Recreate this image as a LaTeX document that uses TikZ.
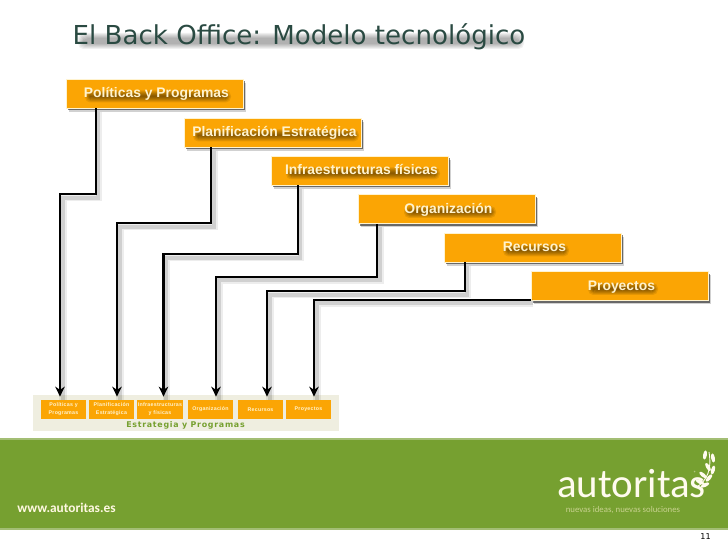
\documentclass[tikz,border=0pt]{standalone}
\usepackage{fontspec}
\usepackage{xcolor}
\usetikzlibrary{arrows.meta,calc,shadows}
\setmainfont{Liberation Sans}
\newfontfamily\titlefont{DejaVu Sans}
\newfontfamily\logofont{Carlito}
\newfontfamily\tinyfont[LetterSpace=5]{Liberation Sans}
\newfontfamily\panelfont[LetterSpace=9]{DejaVu Sans}
\definecolor{naranja}{HTML}{FBA504}
\definecolor{crema}{HTML}{FFF3CF}
\definecolor{verde}{HTML}{76A030}
\definecolor{verdeclaro}{HTML}{A3BE74}
\definecolor{pizarra}{HTML}{2A4A42}
\definecolor{panel}{HTML}{EFEEE0}
\newcommand{\softbar}[4]{% centre, half width, half height, opacity of a layer
    \foreach \k in {0,1,...,5}
        \fill[black, opacity=#4, rounded corners=3pt]
            ($#1+({-(#2)-\k},{-(#3)-\k})$) rectangle ($#1+({(#2)+\k},{(#3)+\k})$);}
\begin{document}
\begin{tikzpicture}[
    x=0.02cm, y=-0.02cm,
    >={Stealth[length=2mm, width=1.9mm]},
    box/.style={rectangle, draw=crema, line width=0.5pt, fill=naranja,
        minimum width=3.54cm, minimum height=0.58cm, inner sep=0pt,
        font=\bfseries\fontsize{7.9}{9}\selectfont, text=crema,
        text height=6.9pt, text depth=2pt,
        execute at begin node=\hspace*{2.2pt},
        drop shadow={shadow xshift=1.8pt, shadow yshift=-2.2pt, fill=black, opacity=.18},
        drop shadow={shadow xshift=1.1pt, shadow yshift=-1.4pt, fill=black, opacity=.5},
        path picture={\softbar{(path picture bounding box.center)+(3.5,3)}{#1}{1}{.09}}},
    smallbox/.style={rectangle, fill=naranja, minimum height=0.38cm, inner sep=0pt,
        align=center, text=crema, font=\tinyfont\bfseries\fontsize{3}{4.6}\selectfont},
    link/.style={->, line width=1.15pt,
        preaction={draw=black, opacity=.07, line width=4.2pt, -,
            transform canvas={shift={(1.6pt,-1.8pt)}}},
        preaction={draw=black, opacity=.12, line width=2.2pt, -,
            transform canvas={shift={(1.6pt,-1.8pt)}}}},
    lbl/.style={inner sep=0pt}
]
    \useasboundingbox (0,0) rectangle (728,546);

    % title
    \softbar{(301,41)}{218}{3}{.06}
    \node[lbl, text=pizarra, font=\titlefont\fontsize{14.85}{17}\selectfont] (titulo) at (299,37)
        {El Back Office: Modelo tecnológico};

    % upper boxes
    \node[box=68] (pol) at (154.5,93.5) {Políticas y Programas};
    \node[box=78] (pla) at (272.5,132.5) {Planificación Estratégica};
    \node[box=72] (inf) at (359.5,170.5) {Infraestructuras físicas};
    \node[box=41] (org) at (446.5,209) {Organización};
    \node[box=28] (rec) at (532.5,247.5) {Recursos};
    \node[box=30] (pro) at (619.5,286) {Proyectos};

    % lower panel
    \node[rectangle, fill=panel, minimum width=6.12cm, minimum height=0.72cm, inner sep=0pt] (fondo) at (186,413) {};
    \node[smallbox, minimum width=0.9cm] (s1) at (63.5,409.5) {Políticas y\\Programas};
    \node[smallbox, minimum width=0.9cm] (s2) at (111.5,409.5) {Planificación\\Estratégica};
    \node[smallbox, minimum width=0.92cm] (s3) at (160,409.5) {Infraestructuras\\y físicas};
    \node[smallbox, minimum width=0.9cm] (s4) at (210.5,409.5) {Organización};
    \node[smallbox, minimum width=0.9cm] (s5) at (260.5,409.5) {Recursos};
    \node[smallbox, minimum width=0.9cm] (s6) at (308.5,409.5) {Proyectos};
    \node[lbl, text=verde, font=\panelfont\bfseries\fontsize{4.5}{6}\selectfont] (estr) at (185.5,425) {Estrategia y Programas};

    % connectors
    \draw[link] ($(pol.south west)+(30,0)$) -- ++(0,86) -| ($(s1.north)+(-3.5,-3)$);
    \draw[link] ($(pla.south west)+(27.5,0)$) -- ++(0,76) -| ($(s2.north)+(5.5,-3)$);
    \draw[link] ($(inf.south west)+(27,0)$) -- ++(0,69) -| ($(s3.north)+(3.5,-3)$);
    \draw[link] ($(org.south west)+(19.5,0)$) -- ++(0,53) -| ($(s4.north)+(5.5,-3)$);
    \draw[link] ($(rec.south west)+(21,0)$) -- ++(0,29) -| ($(s5.north)+(6.5,-3)$);
    \draw[link] ($(pro.south west)+(0,-1)$) -| ($(s6.north)+(5.5,-3)$);

    % footer band
    \node[rectangle, fill=verde, draw=verdeclaro, line width=0.6pt, minimum width=14.7cm, minimum height=1.8cm, inner sep=0pt] (banda) at (364,484) {};
    \node[lbl, anchor=base west, text=crema!60!white, font=\logofont\bfseries\fontsize{7.6}{9}\selectfont] (web) at (17,513) {www.autoritas.es};
    \node[lbl, anchor=base west, text=crema!35!white, font=\logofont\fontsize{23.3}{26}\selectfont] (logo) at (557,498) {autoritas};
    \node[lbl, text=crema!35!white, font=\logofont\fontsize{2.6}{3}\selectfont] (marca) at (695,473) {®};
    \node[lbl, anchor=base, text=crema!60!verde, font=\logofont\fontsize{5}{6}\selectfont] (lema) at (623,513) {nuevas ideas, nuevas soluciones};

    % laurel
    \draw[crema!35!white, line width=0.5pt] (697,487) .. controls (707,480) and (712,470) .. (709,452);
    \foreach \hx/\hy/\ang in {705/455/80, 713/458/100, 708/467/120, 713/470/75, 703/475/140, 709/478/50, 700/482/155, 705/485/25}
        \fill[crema!35!white, rotate around={\ang:(\hx,\hy)}] (\hx,\hy) ellipse (4.6 and 1.9);

    \node[lbl, font=\titlefont\fontsize{4.6}{6}\selectfont] (pagina) at (705.5,537) {11};
\end{tikzpicture}
\end{document}
